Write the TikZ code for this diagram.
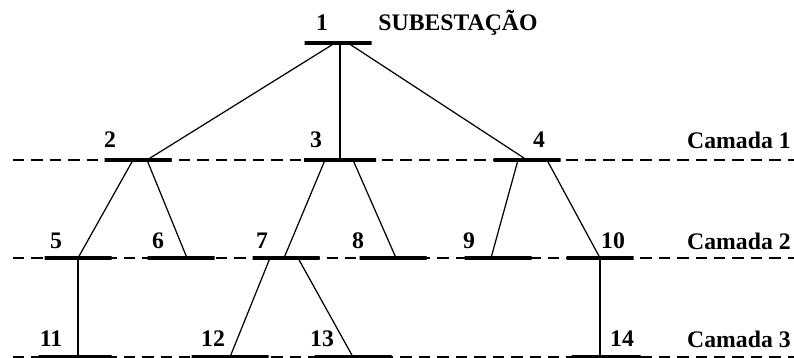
\documentclass[tikz,border=0pt]{standalone}
\usepackage{fontspec}
\setmainfont{Liberation Serif}
\usetikzlibrary{calc}

\begin{document}
\begin{tikzpicture}[x=0.02cm, y=-0.02cm,
        bus/.style={draw, line width=2pt, minimum height=0pt, inner sep=0pt, outer sep=0pt, minimum width=#1*0.02cm},
        bus/.default=67,
        lbl/.style={font=\fontsize{13.5}{15}\selectfont\bfseries, inner sep=0pt},
        layer/.style={line width=1.1pt, dash pattern=on 6.5pt off 4pt},
        link/.style={line width=0.7pt}]
        \useasboundingbox (0,0) rectangle (794,358);

        % Layer lines
        \foreach \y in {160,258,357}
            \draw[layer] (13,\y) -- (794,\y);

        % Buses
        \node[bus] (b1) at (338,43) {};
        \node[bus] (b2) at (138,160) {};
        \node[bus=72] (b3) at (340,160) {};
        \node[bus] (b4) at (527,160) {};
        \node[bus] (b5) at (78,258) {};
        \node[bus] (b6) at (181,258) {};
        \node[bus] (b7) at (286,258) {};
        \node[bus] (b8) at (393,258) {};
        \node[bus] (b9) at (498,258) {};
        \node[bus] (b10) at (600,258) {};
        \node[bus=73] (b11) at (75,357) {};
        \node[bus=77] (b12) at (230,357) {};
        \node[bus=77] (b13) at (353,357) {};
        \node[bus=69] (b14) at (606,357) {};

        % Bus numbers
        \node[lbl] (n1) at (322,23) {1};
        \node[lbl] (n2) at (110,140) {2};
        \node[lbl] (n3) at (316,140) {3};
        \node[lbl] (n4) at (539,140) {4};
        \node[lbl] (n5) at (56,241) {5};
        \node[lbl] (n6) at (158,241) {6};
        \node[lbl] (n7) at (262,241) {7};
        \node[lbl] (n8) at (358,241) {8};
        \node[lbl] (n9) at (469,241) {9};
        \node[lbl] (n10) at (613,241) {10};
        \node[lbl] (n11) at (51,339) {11};
        \node[lbl] (n12) at (213,339) {12};
        \node[lbl] (n13) at (322,339) {13};
        \node[lbl] (n14) at (622,339) {14};

        % Titles
        \node[lbl] (sub) at (458,23) {SUBESTAÇÃO};
        \node[lbl, anchor=east] (c1) at (791,140) {Camada 1};
        \node[lbl, anchor=east] (c2) at (791,241) {Camada 2};
        \node[lbl, anchor=east] (c3) at (791,339) {Camada 3};

        % Feeders
        \draw[link] ($(b1.center)+(-3,0)$) -- ($(b2.center)+(9,0)$);
        \draw[link] (b3.center) -- (b3.center |- b1.center);
        \draw[link] ($(b1.center)+(10,0)$) -- (b4.center);
        \draw[link] ($(b2.center)+(-5,0)$) -- (b5.center);
        \draw[link] ($(b2.center)+(9,0)$) -- ($(b6.center)+(6,0)$);
        \draw[link] ($(b3.center)+(-15,0)$) -- ($(b7.center)+(-2,0)$);
        \draw[link] ($(b3.center)+(13,0)$) -- ($(b8.center)+(3,0)$);
        \draw[link] ($(b4.center)+(-9,0)$) -- ($(b9.center)+(-7,0)$);
        \draw[link] ($(b4.center)+(20,0)$) -- (b10.center);
        \draw[link] (b5.center) -- (b5.center |- b11.center);
        \draw[link] ($(b7.center)+(-16,0)$) -- (b12.center);
        \draw[link] ($(b7.center)+(12,0)$) -- (b13.center);
        \draw[link] (b10.center) -- (b10.center |- b14.center);
    \end{tikzpicture}
\end{document}
